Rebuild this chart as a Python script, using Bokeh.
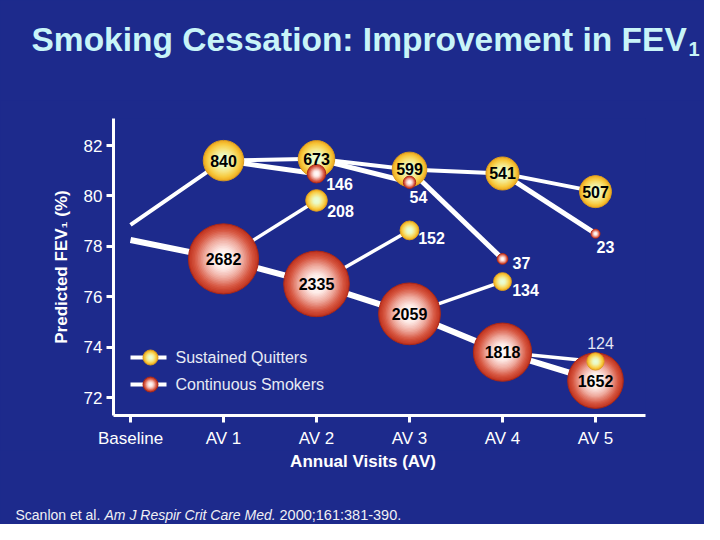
import math
from bokeh.plotting import figure
from bokeh.layouts import column
from bokeh.models import Range1d, FixedTicker, Label
from bokeh.core.properties import value
from bokeh.embed import file_html
from bokeh.resources import INLINE

# ---------------- data ----------------
visits = ["Baseline", "AV 1", "AV 2", "AV 3", "AV 4", "AV 5"]
y_ticks = [72, 74, 76, 78, 80, 82]

# sustained quitters (baseline, AV1..AV5) and group sizes (AV1..AV5)
quit_fev = [78.85, 81.40, 81.47, 81.05, 80.89, 80.17]
quit_n = [840, 673, 599, 541, 507]
# continuous smokers
smoke_fev = [78.25, 77.50, 76.51, 75.32, 73.80, 72.67]
smoke_n = [2682, 2335, 2059, 1818, 1652]
# quitters who relapsed at the next visit (AV2..AV5)
relapse_fev = [80.88, 80.54, 77.50, 78.50]
relapse_n = [146, 54, 37, 23]
# smokers who quit at the next visit (AV2..AV5)
newquit_fev = [79.82, 78.63, 76.60, 73.43]
newquit_n = [208, 152, 134, 124]

legend_names = ["Sustained Quitters", "Continuous Smokers"]
title_text = "Smoking Cessation: Improvement in FEV"
x_title = "Annual Visits (AV)"
y_title = "Predicted FEV\u2081 (%)"
cite_a = "Scanlon et al."
cite_b = "Am J Respir Crit Care Med."
cite_c = "2000;161:381-390."

# ---------------- layout helpers (page pixels <-> data) ----------------
W = 704
PX_X, PX_Y = 93.0, 25.2
def fx(px):
    return (px - 130.0) / PX_X
def fy(py):
    return 82.0 - (py - 145.0) / PX_Y
def px_of(xv):
    return 130.0 + PX_X * xv

BG = "#1d2a8c"
FONT = "Liberation Sans"
TITLE_C = "#c8f4f8"

def blank(height, y0, y1):
    f = figure(width=W, height=height, output_backend="svg", toolbar_location=None,
               x_range=Range1d(0, W), y_range=Range1d(y1, y0),
               x_axis_location=None, y_axis_location=None, title=None,
               min_border=0, frame_align=False)
    f.background_fill_color = BG
    f.border_fill_color = BG
    f.outline_line_color = None
    f.xgrid.visible = False
    f.ygrid.visible = False
    return f

# ---------------- header (title) ----------------
head = blank(100, 0, 100)
head.text([31], [38.5], text=[title_text], text_baseline="alphabetic",
          text_font=value(FONT), text_font_style="bold", text_font_size="33.5px",
          text_color=TITLE_C)
head.text([688], [48.5], text=["1"], text_baseline="alphabetic",
          text_font=value(FONT), text_font_style="bold", text_font_size="20px",
          text_color=TITLE_C)

# ---------------- main chart ----------------
p = figure(width=W, height=350, output_backend="svg", toolbar_location=None,
           x_range=Range1d(fx(113), fx(645)), y_range=Range1d(fy(415), fy(118)),
           min_border_left=113, min_border_right=W - 645, min_border_top=18,
           min_border_bottom=35, title=None, frame_align=False)
p.background_fill_color = BG
p.border_fill_color = BG
p.outline_line_color = None
p.xgrid.visible = False
p.ygrid.visible = False

for ax in (p.xaxis[0], p.yaxis[0]):
    ax.axis_line_color = "white"
    ax.axis_line_width = 3
    ax.major_tick_line_color = "white"
    ax.major_tick_line_width = 3
    ax.major_tick_out = 7
    ax.major_tick_in = 0
    ax.minor_tick_line_color = None
    ax.major_label_text_color = "white"
    ax.major_label_text_font = FONT
    ax.major_label_text_font_size = "17px"
p.xaxis.ticker = FixedTicker(ticks=list(range(len(visits))))
p.xaxis.major_label_overrides = {i: v for i, v in enumerate(visits)}
p.xaxis.major_label_standoff = 6
p.yaxis.ticker = FixedTicker(ticks=y_ticks)
p.yaxis.major_label_standoff = 4
p.yaxis.axis_label = y_title
p.yaxis.axis_label_text_font = FONT
p.yaxis.axis_label_text_font_style = "bold"
p.yaxis.axis_label_text_font_size = "17px"
p.yaxis.axis_label_text_color = "white"
p.yaxis.axis_label_standoff = 10

xi = list(range(len(visits)))
xb = xi[1:]          # AV1..AV5
xn = xi[2:]          # AV2..AV5

# lines
p.line(xi, smoke_fev, line_color="white", line_width=6)
p.line(xi, quit_fev, line_color="white", line_width=4)
p.segment(x0=xi[1:5], y0=quit_fev[1:5], x1=xn, y1=relapse_fev,
          line_color="white", line_width=5)
p.segment(x0=xi[1:5], y0=smoke_fev[1:5], x1=xn, y1=newquit_fev,
          line_color="white", line_width=3.5)

# bubbles with a radial shading built from stacked discs
RED = [(1.0, (194, 54, 34)), (0.84, (214, 86, 64)), (0.58, (238, 168, 156)),
       (0.3, (254, 236, 232)), (0.0, (255, 255, 255))]
YEL = [(1.0, (238, 170, 34)), (0.84, (247, 200, 60)), (0.58, (246, 228, 128)),
       (0.3, (234, 250, 198)), (0.0, (236, 255, 218))]

def grad(stops, r):
    for (r0, c0), (r1, c1) in zip(stops, stops[1:]):
        if r1 <= r <= r0:
            t = (r0 - r) / (r0 - r1)
            return "#%02x%02x%02x" % tuple(int(round(a + (b - a) * t)) for a, b in zip(c0, c1))
    return "#%02x%02x%02x" % stops[-1][1]

def diam(n):
    return 2 * (1.4 + 0.65 * math.sqrt(n))

def bubbles(xs, ys, ns, stops, outline, layers=22):
    d = [diam(n) for n in ns]
    for k in range(layers):
        r = 1.0 - 0.94 * k / (layers - 1)
        p.scatter(xs, ys, size=[v * r for v in d], fill_color=grad(stops, r),
                  line_color=outline if k == 0 else None, line_width=1)

bubbles(xb, quit_fev[1:], quit_n, YEL, "#d89a20")
bubbles(xb, smoke_fev[1:], smoke_n, RED, "#a82818")
bubbles(xn, newquit_fev, newquit_n, YEL, "#d89a20")
bubbles(xn, relapse_fev, relapse_n, RED, "#a82818")

for ys, ns in ((quit_fev[1:], quit_n), (smoke_fev[1:], smoke_n)):
    p.text(xb, ys, text=[str(n) for n in ns], text_align="center",
           text_baseline="middle", text_font=value(FONT), text_font_style="bold",
           text_font_size="16px", text_color="black")

# numbers beside the small bubbles (pixel offsets: right, down)
rel_off = [(23, 10), (9, 15), (19, 4), (10, 13)]
new_off = [(24, 11), (22, 8), (23, 8), (5, -18)]
def side_labels(xs, ys, ns, offs, styles):
    for x, y, n, (dx, dy), st in zip(xs, ys, ns, offs, styles):
        p.add_layout(Label(x=x + dx / PX_X, y=y - dy / PX_Y, text=str(n),
                           text_align="center", text_baseline="middle",
                           text_font=FONT, text_font_size="16px",
                           text_font_style=st[0], text_color=st[1]))
side_labels(xn, relapse_fev, relapse_n, rel_off, [("bold", "white")] * 4)
side_labels(xn, newquit_fev, newquit_n, new_off,
            [("bold", "white")] * 3 + [("normal", "#e4e6f4")])

# legend drawn by hand
leg_y = [fy(357), fy(384)]
for yy, stops, outline, name in zip(leg_y, [YEL, RED], ["#d89a20", "#a82818"], legend_names):
    p.line([fx(130), fx(166)], [yy, yy], line_color="white", line_width=4)
    for k in range(10):
        r = 1.0 - 0.9 * k / 9
        p.scatter([fx(150)], [yy], size=15 * r, fill_color=grad(stops, r),
                  line_color=outline if k == 0 else None)
    p.add_layout(Label(x=fx(175), y=yy, text=name, text_baseline="middle",
                       text_font=FONT, text_font_size="16px", text_color="#e8eaf4"))

# ---------------- footer (x title + citation) ----------------
foot = blank(74, 450, 524)
foot.text([px_of((xi[0] + xi[-1]) / 2)], [461], text=[x_title], text_align="center",
          text_baseline="middle", text_font=value(FONT), text_font_style="bold",
          text_font_size="17px", text_color="white")
cite_kw = dict(text_baseline="middle", text_font=value(FONT), text_color="#f0f0f4")
foot.text([15], [514], text=[cite_a], text_font_size="14px", **cite_kw)
foot.text([104], [514], text=[cite_b], text_font_style="italic",
          text_font_size="14px", **cite_kw)
foot.text([279], [514], text=[cite_c], text_font_size="14.5px", **cite_kw)

layout = column(head, p, foot, spacing=0, styles={"background-color": BG})
open("out.html", "w").write(file_html(layout, INLINE))
